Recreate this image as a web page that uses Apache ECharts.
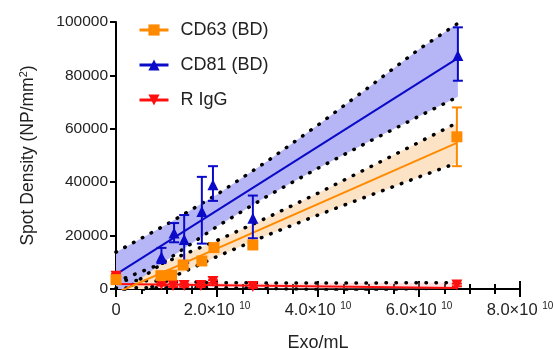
<!DOCTYPE html>
<html>
<head>
<meta charset="utf-8">
<script src="https://cdn.jsdelivr.net/npm/echarts@6/dist/echarts.min.js"></script>
<style>
  html, body { margin: 0; padding: 0; background: #fff; }
  #chart { width: 553px; height: 349px; }
</style>
</head>
<body>
<div id="chart"></div>
<script>
// axis ticks
const xTicks = [0, 2e10, 4e10, 6e10, 8e10]
const yTicks = [0, 20000, 40000, 60000, 80000, 100000]

// measured points [exo/mL, spot density, err low, err high]
const cd63 = [
  [0, 3500, 2700, 4300],
  [0.89e10, 5000, 4200, 5800],
  [1.1e10, 5200, 4400, 6000],
  [1.33e10, 9000, 8000, 10000],
  [1.7e10, 10500, 9500, 11500],
  [1.94e10, 15500, 14500, 16500],
  [2.71e10, 16500, 15500, 17500],
  [6.75e10, 57000, 46000, 68000]
]
const cd81 = [
  [0.9e10, 12000, 9700, 15400],
  [1.15e10, 21000, 17500, 24700],
  [1.35e10, 18500, 9700, 27700],
  [1.7e10, 29000, 17000, 42000],
  [1.92e10, 39000, 33000, 46000],
  [2.71e10, 26500, 19000, 35000],
  [6.77e10, 87500, 78000, 98000]
]
const rigg = [
  [0, 4800, 4000, 5600],
  [0.9e10, 1800, 1300, 2300],
  [1.13e10, 1300, 800, 1800],
  [1.35e10, 1300, 800, 1800],
  [1.68e10, 1300, 800, 1800],
  [1.92e10, 2800, 2300, 3300],
  [2.71e10, 900, 400, 1400],
  [6.75e10, 1500, 1000, 2000]
]

// linear fits (end points)
const cd63Fit = [[0, -1500], [6.75e10, 54700]]
const cd81Fit = [[0, 5500], [6.77e10, 86500]]
const riggFit = [[0, 1900], [6.75e10, 400]]

// 95% confidence bands: x, lower, upper
const cd63Band = [
  [0, -5750, 2750], [1e10, 3450, 10210], [2e10, 12150, 18150], [3e10, 20180, 26780],
  [4e10, 27700, 35900], [5e10, 34860, 45400], [6e10, 41960, 54960], [6.75e10, 47200, 62200]
]
const cd81Band = [
  [0, -2800, 13800], [1e10, 10760, 24160], [2e10, 23420, 35420], [3e10, 34830, 47930],
  [4e10, 45250, 61430], [5e10, 55110, 75490], [6e10, 64700, 89820], [6.77e10, 72000, 99500]
]
const riggBand = [
  [0, 400, 3400], [2e10, 560, 2360], [4e10, -210, 2210], [6.75e10, -1600, 2400]
]

const ORANGE = '#ff8a00'
const BLUE = '#0a0ac8'
const RED = '#ff1010'
const FONT = '"Liberation Sans", Arial, sans-serif'

const bandSeries = (band, fill) => ({
  type: 'custom',
  clip: true,
  silent: true,
  z: 1,
  data: [0],
  renderItem: (params, api) => {
    const top = band.map(d => api.coord([d[0], d[2]]))
    const bottom = band.slice().reverse().map(d => api.coord([d[0], d[1]]))
    return { type: 'polygon', shape: { points: top.concat(bottom) }, style: { fill: fill } }
  }
})

const dotted = (band, idx) => ({
  type: 'line',
  silent: true,
  symbol: 'none',
  z: 2,
  data: band.map(d => [d[0], d[idx]]),
  lineStyle: { color: '#000', width: 3.5, type: [0.5, 9.5], cap: 'round' }
})

const fitLine = (fit, color) => ({
  type: 'line',
  silent: true,
  symbol: 'none',
  z: 3,
  data: fit,
  lineStyle: { color: color, width: 2 }
})

const errorBars = (points, color) => ({
  type: 'custom',
  silent: true,
  z: 4,
  data: points.map(p => [p[0], p[2], p[3]]),
  renderItem: (params, api) => {
    const lo = api.coord([api.value(0), api.value(1)])
    const hi = api.coord([api.value(0), api.value(2)])
    const st = { stroke: color, lineWidth: 2 }
    return {
      type: 'group',
      children: [
        { type: 'line', shape: { x1: lo[0], y1: lo[1], x2: hi[0], y2: hi[1] }, style: st },
        { type: 'line', shape: { x1: lo[0] - 5, y1: lo[1], x2: lo[0] + 5, y2: lo[1] }, style: st },
        { type: 'line', shape: { x1: hi[0] - 5, y1: hi[1], x2: hi[0] + 5, y2: hi[1] }, style: st }
      ]
    }
  }
})

const points = (name, pts, color, symbol, rotate, size) => ({
  name: name,
  type: 'line',
  z: 5,
  symbol: symbol,
  symbolRotate: rotate,
  symbolSize: size,
  showAllSymbol: true,
  data: pts.map(p => [p[0], p[1]]),
  itemStyle: { color: color, opacity: 1 },
  lineStyle: { color: color, opacity: 0 }
})

const chart = echarts.init(document.getElementById('chart'))
chart.setOption({
  animation: false,
  grid: { left: 116, right: 33, top: 22, bottom: 60, outerBoundsMode: 'none' },
  legend: {
    data: ['CD63 (BD)', 'CD81 (BD)', 'R IgG'],
    orient: 'vertical',
    left: 133,
    top: 16,
    itemWidth: 29,
    itemHeight: 14,
    itemGap: 17,
    lineStyle: { opacity: 1, width: 3 },
    textStyle: { fontFamily: FONT, fontSize: 18, color: '#222', padding: [0, 0, 0, 7] }
  },
  xAxis: [{
    type: 'value',
    min: xTicks[0],
    max: xTicks[xTicks.length - 1],
    interval: 2e10,
    name: 'Exo/mL',
    nameLocation: 'middle',
    nameGap: 45,
    nameTextStyle: { fontFamily: FONT, fontSize: 18, color: '#222' },
    axisLine: { lineStyle: { color: '#000', width: 2 } },
    axisTick: { length: 8, lineStyle: { color: '#000', width: 2 } },
    minorTick: { show: true, splitNumber: 4, length: 5, lineStyle: { color: '#000', width: 2 } },
    splitLine: { show: false },
    axisLabel: {
      margin: 12,
      fontFamily: FONT,
      color: '#222',
      formatter: v => v === 0 ? '{m|0}' : '{m|' + (v / 1e10).toFixed(1) + '×10 }{s|10}',
      rich: {
        m: { fontFamily: FONT, fontSize: 16.5, lineHeight: 18, color: '#222' },
        s: { fontFamily: FONT, fontSize: 10, lineHeight: 10, verticalAlign: 'top', color: '#222' }
      }
    }
  }, {
    type: 'value',
    min: xTicks[0],
    max: xTicks[xTicks.length - 1],
    interval: 2e10,
    position: 'bottom',
    axisLine: { show: false },
    axisTick: { inside: true, length: 8, lineStyle: { color: '#000', width: 2 } },
    minorTick: { show: true, splitNumber: 4, length: 5, lineStyle: { color: '#000', width: 2 } },
    splitLine: { show: false },
    axisLabel: { show: false }
  }],
  yAxis: {
    type: 'value',
    min: yTicks[0],
    max: yTicks[yTicks.length - 1],
    interval: 20000,
    name: '{a|Spot Density (NP/mm}{b|2}{a|)}',
    nameLocation: 'middle',
    nameGap: 78,
    nameTextStyle: {
      fontFamily: FONT,
      color: '#222',
      rich: {
        a: { fontFamily: FONT, fontSize: 17.5, lineHeight: 20, color: '#222' },
        b: { fontFamily: FONT, fontSize: 11, lineHeight: 11, verticalAlign: 'top', color: '#222' }
      }
    },
    axisLine: { show: true, lineStyle: { color: '#000', width: 2 } },
    axisTick: { show: true, length: 6, lineStyle: { color: '#000', width: 2 } },
    splitLine: { show: false },
    axisLabel: { margin: 8, fontFamily: FONT, fontSize: 15.5, color: '#222', formatter: v => String(v) }
  },
  series: [
    bandSeries(riggBand, 'rgba(255,170,170,0.35)'),
    bandSeries(cd63Band, '#fde3c6'),
    bandSeries(cd81Band, '#b6b6f6'),
    dotted(riggBand, 2), dotted(riggBand, 1),
    dotted(cd63Band, 2), dotted(cd63Band, 1),
    dotted(cd81Band, 2), dotted(cd81Band, 1),
    fitLine(riggFit, RED),
    fitLine(cd63Fit, ORANGE),
    fitLine(cd81Fit, BLUE),
    errorBars(rigg, RED),
    errorBars(cd63, ORANGE),
    errorBars(cd81, BLUE),
    points('R IgG', rigg, RED, 'triangle', 180, 11),
    points('CD63 (BD)', cd63, ORANGE, 'rect', 0, 11),
    points('CD81 (BD)', cd81, BLUE, 'triangle', 0, 11)
  ]
})
</script>
</body>
</html>
